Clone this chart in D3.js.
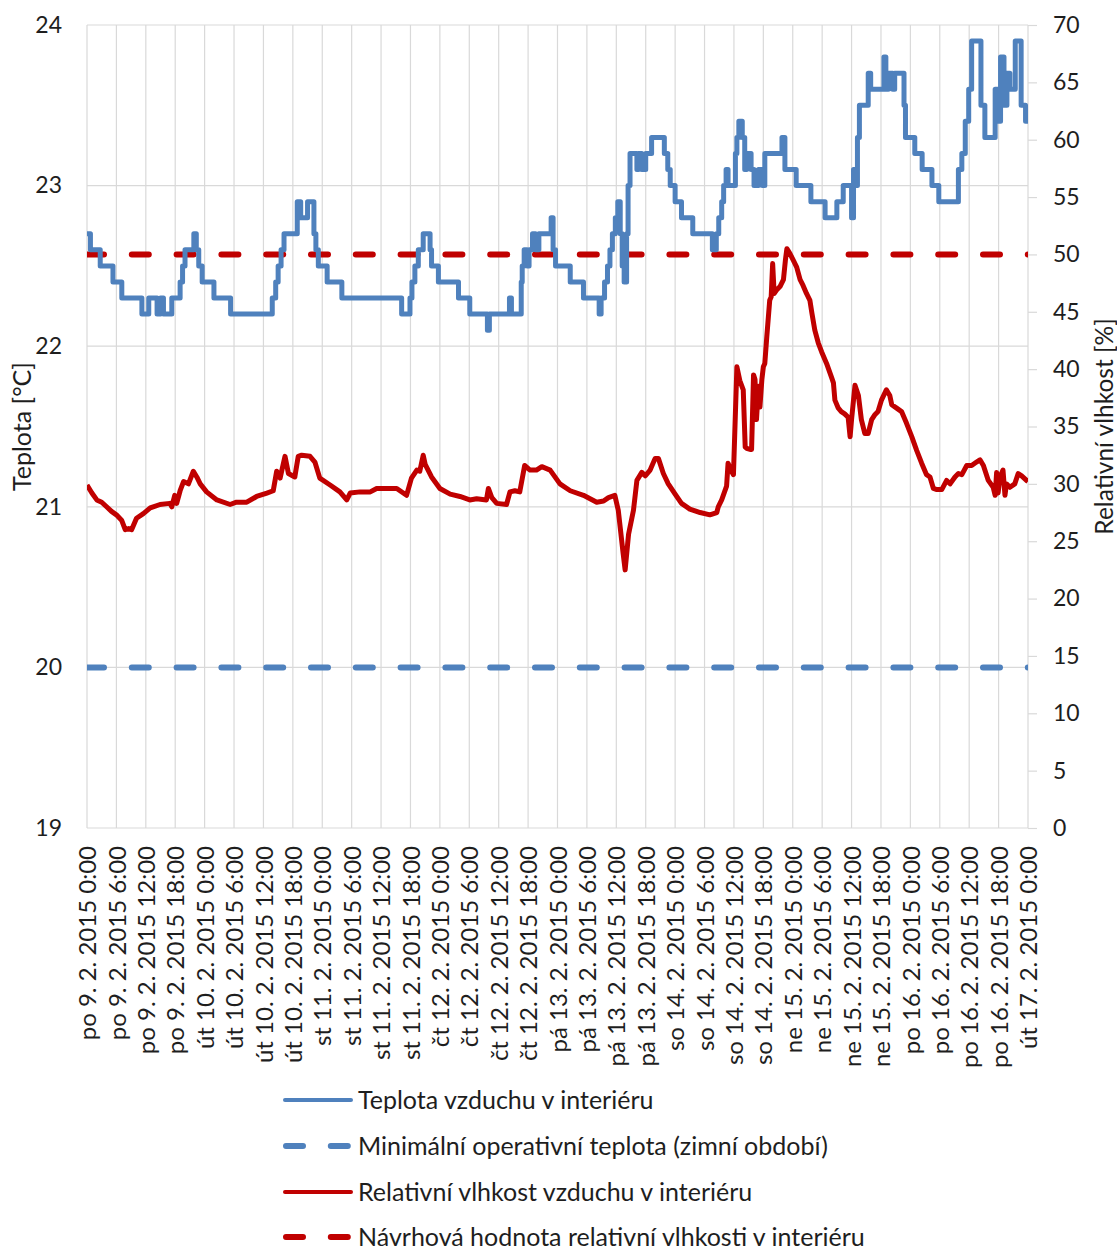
<!DOCTYPE html>
<html>
<head>
<meta charset="utf-8">
<script src="https://cdn.jsdelivr.net/npm/d3@7"></script>
<style>
  body { margin: 0; background: #fff; }
  svg { display: block; }
  text { font-family: Lato, "Open Sans", sans-serif; fill: #1e1e1e; }
</style>
</head>
<body>
<svg id="chart" width="1117" height="1257"></svg>
<script>
// Category labels, one every 6 hours (hour offsets from po 9. 2. 2015 0:00)
const tickHours = [0,6,12,18,24,30,36,42,48,54,60,66,72,78,84,90,96,102,108,114,120,126,132,138,144,150,156,162,168,174,180,186,192];
const tickLabels = [
  "po 9. 2. 2015 0:00","po 9. 2. 2015 6:00","po 9. 2. 2015 12:00","po 9. 2. 2015 18:00",
  "út 10. 2. 2015 0:00","út 10. 2. 2015 6:00","út 10. 2. 2015 12:00","út 10. 2. 2015 18:00",
  "st 11. 2. 2015 0:00","st 11. 2. 2015 6:00","st 11. 2. 2015 12:00","st 11. 2. 2015 18:00",
  "čt 12. 2. 2015 0:00","čt 12. 2. 2015 6:00","čt 12. 2. 2015 12:00","čt 12. 2. 2015 18:00",
  "pá 13. 2. 2015 0:00","pá 13. 2. 2015 6:00","pá 13. 2. 2015 12:00","pá 13. 2. 2015 18:00",
  "so 14. 2. 2015 0:00","so 14. 2. 2015 6:00","so 14. 2. 2015 12:00","so 14. 2. 2015 18:00",
  "ne 15. 2. 2015 0:00","ne 15. 2. 2015 6:00","ne 15. 2. 2015 12:00","ne 15. 2. 2015 18:00",
  "po 16. 2. 2015 0:00","po 16. 2. 2015 6:00","po 16. 2. 2015 12:00","po 16. 2. 2015 18:00",
  "út 17. 2. 2015 0:00"
];

// Axis ticks
const temperatureTicks = [19, 20, 21, 22, 23, 24];
const humidityTicks = [0, 5, 10, 15, 20, 25, 30, 35, 40, 45, 50, 55, 60, 65, 70];

// Indoor air temperature [°C]: [hour, value], value holds until the next entry
const temperaturePoints = [
  [0,22.7],[0.7,22.6],[2.7,22.5],[5.3,22.4],[7.1,22.3],[11.2,22.2],[12.6,22.3],[14.3,22.2],[15.0,22.3],[15.6,22.2],
  [17.3,22.3],[19.0,22.4],[19.5,22.5],[20.0,22.6],[21.8,22.7],[22.3,22.6],[22.8,22.5],[23.5,22.4],[25.9,22.3],[29.3,22.2],
  [37.8,22.3],[38.5,22.4],[39.0,22.5],[39.6,22.6],[40.2,22.7],[42.9,22.9],[43.6,22.8],[45.0,22.9],[46.3,22.7],[46.7,22.6],
  [47.2,22.5],[49.0,22.4],[52.0,22.3],[64.2,22.2],[65.9,22.3],[66.3,22.4],[66.9,22.5],[67.6,22.6],[68.6,22.7],[70.0,22.6],
  [70.3,22.5],[71.7,22.4],[75.8,22.3],[78.1,22.2],[81.7,22.1],[82.1,22.2],[86.2,22.3],[86.6,22.2],[88.6,22.4],[88.8,22.5],
  [89.2,22.6],[89.8,22.5],[90.2,22.6],[90.9,22.7],[91.5,22.6],[92.2,22.7],[94.7,22.8],[95.1,22.6],[95.6,22.5],[98.6,22.4],
  [101.3,22.3],[104.5,22.2],[104.9,22.3],[105.6,22.4],[106.2,22.5],[106.7,22.6],[107.2,22.7],[107.8,22.8],[108.3,22.9],[108.8,22.7],
  [109.2,22.5],[109.6,22.4],[110.1,22.7],[110.4,23.0],[110.8,23.2],[112.2,23.1],[112.5,23.2],[113.2,23.1],[114.0,23.2],[115.2,23.3],
  [117.8,23.2],[118.5,23.1],[119.0,23.0],[120.0,22.9],[121.3,22.8],[123.6,22.7],[127.6,22.6],[128.4,22.7],[128.9,22.8],[129.5,22.9],
  [129.9,23.0],[130.4,23.1],[130.8,23.0],[132.3,23.2],[132.6,23.3],[133.0,23.4],[133.7,23.3],[134.2,23.1],[134.6,23.2],[135.5,23.1],
  [136.1,23.0],[137.0,23.1],[137.8,23.0],[138.3,23.2],[141.8,23.3],[142.4,23.1],[144.7,23.0],[147.7,22.9],[150.6,22.8],[153.0,22.9],
  [154.3,23.0],[156.0,22.8],[156.4,23.1],[156.8,23.0],[157.2,23.3],[157.6,23.5],[159.4,23.7],[159.9,23.6],[162.6,23.8],[163.0,23.6],
  [163.5,23.7],[164.4,23.6],[164.8,23.7],[166.7,23.5],[167.0,23.3],[168.9,23.2],[170.4,23.1],[172.4,23.0],[173.8,22.9],[177.8,23.1],
  [178.5,23.2],[179.2,23.4],[179.9,23.6],[180.5,23.9],[182.4,23.5],[183.2,23.3],[185.3,23.6],[185.9,23.4],[186.4,23.8],[187.1,23.5],
  [187.7,23.7],[188.3,23.6],[189.4,23.9],[190.6,23.5],[191.5,23.4],[192,23.4]
];

// Indoor relative humidity [%]: [hour, value]
const humidityPoints = [
  [0,29.9],[1.0,29.2],[2.0,28.6],[3.0,28.4],[4.0,28.0],[5.0,27.6],[6.0,27.3],[7.1,26.8],[7.8,26.0],[8.5,26.1],
  [9.1,26.0],[10.1,27.0],[11.5,27.4],[12.9,27.9],[14.9,28.2],[16.9,28.3],[17.3,28.0],[17.9,29.0],[18.3,28.3],[19.0,29.4],
  [19.7,30.2],[20.7,30.0],[21.7,31.1],[22.4,30.6],[23.1,30.0],[24.4,29.3],[26.5,28.6],[29.2,28.2],[30.5,28.4],[32.6,28.4],
  [34.6,28.9],[36.7,29.2],[38.0,29.4],[38.7,31.1],[39.4,30.5],[40.4,32.4],[41.1,30.9],[42.4,30.6],[43.1,32.4],[43.8,32.5],
  [45.5,32.4],[46.5,31.9],[47.5,30.5],[49.6,29.9],[51.6,29.3],[53.0,28.6],[53.7,29.2],[55.7,29.3],[57.8,29.3],[59.1,29.6],
  [59.8,29.6],[63.2,29.6],[65.2,29.0],[66.2,30.5],[67.3,31.2],[67.9,31.1],[68.6,32.5],[69.0,31.7],[70.3,30.6],[72.0,29.6],
  [74.1,29.1],[76.1,28.9],[78.1,28.6],[79.5,28.7],[81.5,28.6],[81.9,29.6],[82.6,28.8],[83.6,28.3],[85.6,28.2],[86.3,29.3],
  [87.3,29.4],[88.3,29.3],[89.3,31.6],[90.4,31.2],[91.7,31.2],[92.8,31.5],[94.5,31.2],[96.5,30.0],[98.6,29.4],[101.3,29.0],
  [104.0,28.4],[105.4,28.5],[106.4,28.8],[107.7,29.0],[108.4,27.7],[109.4,23.9],[109.8,22.5],[110.5,25.6],[111.5,27.7],[112.2,30.3],
  [113.2,31.0],[113.9,30.7],[114.9,31.2],[115.9,32.2],[116.6,32.2],[117.6,30.9],[118.6,30.0],[120.0,29.1],[121.3,28.3],[123.0,27.8],
  [125.1,27.5],[127.1,27.3],[128.5,27.5],[128.8,28.0],[129.5,28.6],[130.5,29.8],[130.8,31.8],[131.5,31.1],[131.9,30.8],[132.6,40.2],
  [133.2,39.0],[133.9,38.2],[134.3,33.2],[134.6,33.1],[135.3,33.0],[135.6,33.0],[136.0,39.5],[136.3,39.1],[136.6,35.6],[137.0,38.5],
  [137.3,36.7],[137.7,39.1],[138.0,40.2],[138.3,40.5],[138.7,42.8],[139.3,46.0],[139.6,46.3],[139.9,49.2],[140.2,46.6],[140.7,46.9],
  [141.4,47.2],[142.1,47.8],[142.5,49.5],[142.8,50.5],[143.4,50.1],[144.1,49.5],[144.8,48.9],[145.5,47.8],[146.1,47.3],[146.8,46.6],
  [147.5,46.0],[147.9,44.9],[148.5,43.4],[149.2,42.3],[149.9,41.5],[150.9,40.5],[151.9,39.3],[152.3,38.8],[152.6,37.3],[153.3,36.6],
  [153.9,36.3],[154.6,36.1],[155.3,35.8],[155.7,34.1],[156.0,35.6],[156.7,38.6],[157.4,37.7],[158.0,35.6],[158.7,34.4],[159.4,34.4],
  [160.1,35.6],[160.7,36.0],[161.4,36.3],[162.1,37.3],[163.1,38.2],[163.8,37.7],[164.2,36.9],[165.2,36.6],[166.2,36.3],[167.2,35.3],
  [168.3,34.1],[169.3,32.9],[170.3,31.8],[171.3,30.8],[172.0,30.6],[172.7,29.6],[173.4,29.5],[174.4,29.5],[175.4,30.3],[176.1,30.0],
  [177.1,30.6],[177.8,30.9],[178.5,30.8],[179.5,31.6],[180.5,31.6],[181.5,31.9],[182.2,32.1],[182.9,31.6],[183.9,30.3],[184.9,29.7],
  [185.3,29.0],[185.6,31.0],[185.9,29.2],[186.3,30.6],[186.9,31.2],[187.3,29.0],[187.6,30.0],[188.3,29.7],[189.3,30.0],[190.0,30.9],
  [190.7,30.7],[191.7,30.3],[192.0,30.2]
];

// Reference levels
const minOperativeTemperature = 20;   // °C, winter period
const designHumidity = 50;            // %

const legendLabels = [
  "Teplota vzduchu v interiéru",
  "Minimální operativní teplota (zimní období)",
  "Relativní vlhkost vzduchu v interiéru",
  "Návrhová hodnota relativní vlhkosti v interiéru"
];

const BLUE = "#4f81bd", RED = "#c00000", GRID = "#d9d9d9", INK = "#1e1e1e";
const FONT = "Lato, 'Open Sans', sans-serif";
const plot = { left: 87, right: 1028, top: 25, bottom: 828 };

const svg = d3.select("#chart");

const x = d3.scaleLinear().domain([0, 192]).range([plot.left, plot.right]);
const yT = d3.scaleLinear().domain([19, 24]).range([plot.bottom, plot.top]);
const yH = d3.scaleLinear().domain([0, 70]).range([plot.bottom, plot.top]);

svg.append("defs").append("clipPath").attr("id", "plotClip")
  .append("rect")
  .attr("x", plot.left).attr("y", plot.top - 10)
  .attr("width", plot.right - plot.left).attr("height", plot.bottom - plot.top + 20);

// Gridlines
const grid = svg.append("g").attr("stroke", GRID).attr("stroke-width", 1.2);
grid.selectAll("line.h").data(temperatureTicks).join("line")
  .attr("x1", plot.left).attr("x2", plot.right)
  .attr("y1", d => yT(d)).attr("y2", d => yT(d));
grid.selectAll("line.v").data(tickHours).join("line")
  .attr("x1", d => x(d)).attr("x2", d => x(d))
  .attr("y1", plot.top).attr("y2", plot.bottom);

// Left axis (temperature)
const leftAxis = svg.append("g")
  .attr("transform", `translate(${plot.left},0)`)
  .call(d3.axisLeft(yT).tickValues(temperatureTicks).tickSize(0).tickPadding(25).tickFormat(d3.format("d")));
leftAxis.select(".domain").remove();
leftAxis.selectAll("text").attr("font-size", 23).attr("font-family", FONT).attr("fill", INK);

// Right axis (relative humidity)
const rightAxis = svg.append("g")
  .attr("transform", `translate(${plot.right},0)`)
  .call(d3.axisRight(yH).tickValues(humidityTicks).tickSize(9).tickPadding(16).tickFormat(d3.format("d")));
rightAxis.select(".domain").remove();
rightAxis.selectAll("line").attr("stroke", GRID).attr("stroke-width", 1.2);
rightAxis.selectAll("text").attr("font-size", 23).attr("font-family", FONT).attr("fill", INK);

// Bottom axis (date/time categories)
const bottomAxis = svg.append("g")
  .attr("transform", `translate(0,${plot.bottom})`)
  .call(d3.axisBottom(x).tickValues(tickHours).tickSize(0).tickFormat((d, i) => tickLabels[i]));
bottomAxis.select(".domain").remove();
bottomAxis.selectAll("text")
  .attr("transform", "rotate(-90)")
  .attr("x", -18).attr("y", 0).attr("dy", "0.36em")
  .attr("text-anchor", "end")
  .attr("font-size", 24).attr("font-family", FONT).attr("fill", INK);

// Axis titles
svg.append("text")
  .attr("transform", `translate(31,${(plot.top + plot.bottom) / 2}) rotate(-90)`)
  .attr("text-anchor", "middle").attr("font-size", 25)
  .text("Teplota [°C]");
svg.append("text")
  .attr("transform", `translate(1113,${(plot.top + plot.bottom) / 2}) rotate(-90)`)
  .attr("text-anchor", "middle").attr("font-size", 24.5)
  .text("Relativní vlhkost [%]");

const series = svg.append("g").attr("clip-path", "url(#plotClip)").attr("fill", "none");

// Reference dashed lines
series.append("line")
  .attr("x1", plot.left).attr("x2", plot.right)
  .attr("y1", yH(designHumidity)).attr("y2", yH(designHumidity))
  .attr("stroke", RED).attr("stroke-width", 6).attr("stroke-linecap", "round")
  .attr("stroke-dasharray", "17,27.8");
series.append("line")
  .attr("x1", plot.left).attr("x2", plot.right)
  .attr("y1", yT(minOperativeTemperature)).attr("y2", yT(minOperativeTemperature))
  .attr("stroke", BLUE).attr("stroke-width", 6).attr("stroke-linecap", "round")
  .attr("stroke-dasharray", "17,27.8");

// Measured series
series.append("path")
  .datum(humidityPoints)
  .attr("d", d3.line().x(d => x(d[0])).y(d => yH(d[1])).curve(d3.curveLinear))
  .attr("stroke", RED).attr("stroke-width", 5).attr("stroke-linejoin", "round");
series.append("path")
  .datum(temperaturePoints)
  .attr("d", d3.line().x(d => x(d[0])).y(d => yT(d[1])).curve(d3.curveStepAfter))
  .attr("stroke", BLUE).attr("stroke-width", 5).attr("stroke-linejoin", "round");

// Legend
const legendStyles = [
  { color: BLUE, dash: null },
  { color: BLUE, dash: "17,27.8" },
  { color: RED, dash: null },
  { color: RED, dash: "17,27.8" }
];
const legendRows = [1100, 1146, 1192, 1237];
const legend = svg.append("g");
legendLabels.forEach((label, i) => {
  const row = legend.append("g").attr("transform", `translate(0,${legendRows[i]})`);
  const ln = row.append("line")
    .attr("x1", legendStyles[i].dash ? 286 : 285).attr("x2", legendStyles[i].dash ? 349 : 351)
    .attr("y1", 0).attr("y2", 0)
    .attr("stroke", legendStyles[i].color)
    .attr("stroke-width", legendStyles[i].dash ? 6 : 4)
    .attr("stroke-linecap", "round");
  if (legendStyles[i].dash) ln.attr("stroke-dasharray", legendStyles[i].dash);
  row.append("text")
    .attr("x", 358).attr("y", 0).attr("dy", "0.35em")
    .attr("font-size", 25)
    .text(label);
});
</script>
</body>
</html>
